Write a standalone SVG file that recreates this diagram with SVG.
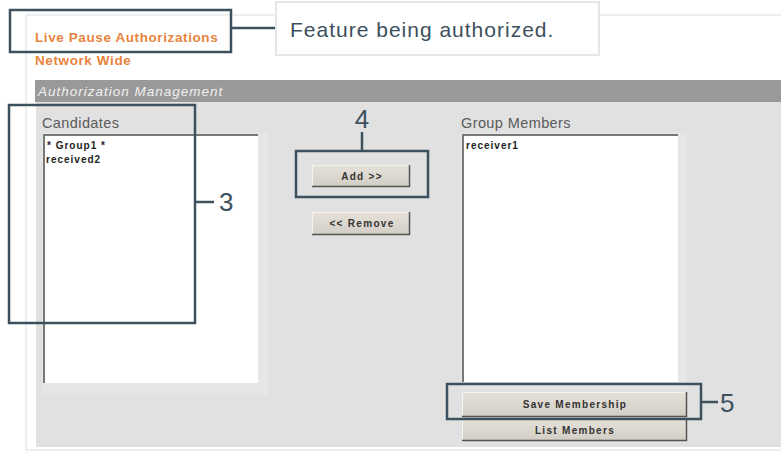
<svg xmlns="http://www.w3.org/2000/svg" width="781" height="452" viewBox="0 0 781 452">
<defs>
<linearGradient id="btn" x1="0" y1="0" x2="0" y2="1">
<stop offset="0" stop-color="#e6e2da"/>
<stop offset="1" stop-color="#d2cdc4"/>
</linearGradient>
</defs>
<style>
.callout{fill:none;stroke:#3d505e;stroke-width:2.5}
.lead{fill:none;stroke:#3d505e;stroke-width:2.5}
.num{font-family:"Liberation Sans",Arial,sans-serif;font-size:26px;fill:#3d505e}
.note{font-family:"Liberation Sans",Arial,sans-serif;font-size:21px;letter-spacing:1px;fill:#3d4f5c}
.orange{font-family:"Liberation Sans",Arial,sans-serif;font-size:13.5px;letter-spacing:0.6px;font-weight:bold;fill:#e8843e}
.label{font-family:"Liberation Sans",Arial,sans-serif;font-size:14.5px;letter-spacing:0.4px;fill:#5a5a5a}
.item{font-family:"Liberation Sans",Arial,sans-serif;font-size:10px;letter-spacing:1px;font-weight:bold;fill:#222}
.btnt{font-family:"Liberation Sans",Arial,sans-serif;font-size:10px;letter-spacing:1.3px;font-weight:bold;fill:#333;text-anchor:middle}
.btn{fill:url(#btn)}
.btnsh{fill:none;stroke:#555;stroke-width:1.5}
.btnhi{fill:none;stroke:#f4f2ee;stroke-width:1}
</style>
<rect width="781" height="452" fill="#ffffff"/>
<g id="screenshot">
<rect x="26" y="15" width="760" height="435" fill="#ffffff" stroke="#eceeef" stroke-width="2"/>
<text class="orange" x="35" y="42">Live Pause Authorizations</text>
<text class="orange" x="35" y="65">Network Wide</text>
<rect x="36" y="102" width="745" height="345" fill="#e1e1e1"/>
<rect x="35" y="80" width="746" height="22" fill="#999999"/>
<text x="38" y="96" font-family="Liberation Sans, Arial, sans-serif" font-size="13.5" letter-spacing="1" font-style="italic" fill="#f0f0f0">Authorization Management</text>
<text class="label" x="42" y="128">Candidates</text>
<rect x="42" y="133" width="226" height="262" fill="#e6e6e6"/>
<rect x="43" y="134" width="215" height="249" fill="#ffffff"/>
<path d="M44 383 V135 H258" fill="none" stroke="#777" stroke-width="2"/>
<text class="item" x="47" y="149" letter-spacing="1.3">* Group1 *</text>
<text class="item" x="46" y="163" font-weight="normal">received2</text>
<text class="label" x="461" y="128">Group Members</text>
<rect x="461" y="133" width="226" height="256" fill="#e6e6e6"/>
<rect x="462" y="134" width="216" height="248" fill="#ffffff"/>
<path d="M463 382 V135 H678" fill="none" stroke="#777" stroke-width="2"/>
<text class="item" x="466" y="149" letter-spacing="0.8">receiver1</text>
<g id="btn-add">
<rect class="btn" x="312" y="165" width="98" height="22"/>
<path class="btnhi" d="M312.5 187 V165.5 H410"/>
<path class="btnsh" d="M312 186.5 H409.5 V165"/>
<text class="btnt" x="362" y="180">Add &gt;&gt;</text>
</g>
<g id="btn-remove">
<rect class="btn" x="312" y="212" width="98" height="23"/>
<path class="btnhi" d="M312.5 235 V212.5 H410"/>
<path class="btnsh" d="M312 234.5 H409.5 V212"/>
<text class="btnt" x="362" y="227">&lt;&lt; Remove</text>
</g>
<g id="btn-save">
<rect class="btn" x="462" y="392" width="225" height="25"/>
<path class="btnhi" d="M462.5 417 V392.5 H687"/>
<path class="btnsh" d="M462 416.5 H686.5 V392"/>
<text class="btnt" x="575" y="408">Save Membership</text>
</g>
<g id="btn-list">
<rect class="btn" x="462" y="419" width="225" height="22"/>
<path class="btnhi" d="M462.5 441 V419.5 H687"/>
<path class="btnsh" d="M462 440.5 H686.5 V419"/>
<text class="btnt" x="575" y="434">List Members</text>
</g>
</g>
<g id="connectors">
<line class="lead" x1="231" y1="28" x2="276" y2="28"/>
<line class="lead" x1="195" y1="202" x2="214" y2="202"/>
<line class="lead" x1="362" y1="132" x2="362" y2="151"/>
<line class="lead" x1="701" y1="402" x2="718" y2="402"/>
</g>
<g id="callout-feature">
<rect x="10" y="10" width="221" height="42" class="callout"/>
</g>
<g id="note-feature">
<rect x="276" y="2" width="323" height="53" fill="#ffffff" stroke="#e4e7e9" stroke-width="2"/>
<text class="note" x="290" y="37">Feature being authorized.</text>
</g>
<g id="callout-3">
<rect x="9" y="105" width="186" height="218" class="callout"/>
<text class="num" x="219" y="211">3</text>
</g>
<g id="callout-4">
<rect x="296" y="151" width="132" height="46" class="callout"/>
<text class="num" x="362" y="128" text-anchor="middle">4</text>
</g>
<g id="callout-5">
<rect x="447" y="384" width="254" height="35" class="callout"/>
<text class="num" x="720" y="412">5</text>
</g>
</svg>
